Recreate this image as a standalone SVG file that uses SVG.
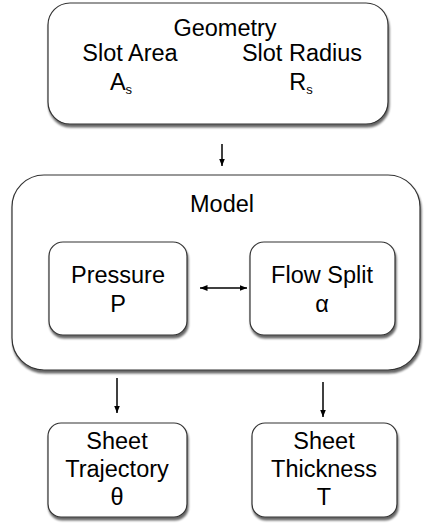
<svg xmlns="http://www.w3.org/2000/svg" width="426" height="523" viewBox="0 0 426 523">
<defs>
<filter id="sh" x="-10%" y="-10%" width="120%" height="120%">
<feGaussianBlur in="SourceAlpha" stdDeviation="1"/>
<feOffset dx="1" dy="2.5" result="b"/>
<feComponentTransfer><feFuncA type="linear" slope="0.6"/></feComponentTransfer>
<feMerge><feMergeNode/><feMergeNode in="SourceGraphic"/></feMerge>
</filter>
<marker id="ah" viewBox="0 0 10 10" refX="10" refY="5" markerWidth="5" markerHeight="5" orient="auto-start-reverse">
<path d="M0,1 L10,5 L0,9 z" fill="#000"/>
</marker>
</defs>
<style>
.box{fill:#fff;stroke:#333;stroke-width:1.2;filter:url(#sh)}
text{font-family:"Liberation Sans",Arial,sans-serif;font-size:23.5px;fill:#000;text-anchor:middle}
.sub{font-size:13px}
.c{stroke:#000;stroke-width:1.5;fill:none;marker-end:url(#ah)}
</style>
<rect width="426" height="523" fill="#fff"/>
<g id="geometry">
<rect class="box" x="48" y="3" width="340" height="121" rx="22"/>
<text x="225" y="36">Geometry</text>
<text x="130" y="61">Slot Area</text>
<text x="302" y="61">Slot Radius</text>
<text x="121" y="90" text-anchor="start">A<tspan class="sub" dy="4">s</tspan></text>
<text x="301" y="90" text-anchor="start">R<tspan class="sub" dy="4">s</tspan></text>
</g>
<g id="model">
<rect class="box" x="12" y="175" width="408" height="195" rx="32"/>
<text x="222" y="212">Model</text>
</g>
<g id="pressure">
<rect class="box" x="49" y="242" width="138" height="93" rx="14"/>
<text x="118" y="283">Pressure</text>
<text x="118" y="312">P</text>
</g>
<g id="flowsplit">
<rect class="box" x="250" y="242" width="145" height="93" rx="14"/>
<text x="322" y="283">Flow Split</text>
<text x="322" y="312">α</text>
</g>
<g id="trajectory">
<rect class="box" x="48" y="423" width="139" height="94" rx="13"/>
<text x="117" y="449">Sheet</text>
<text x="117" y="477">Trajectory</text>
<text x="117" y="505">θ</text>
</g>
<g id="thickness">
<rect class="box" x="252" y="423" width="145" height="94" rx="13"/>
<text x="324" y="449">Sheet</text>
<text x="324" y="477">Thickness</text>
<text x="324" y="505">T</text>
</g>
<g id="connectors">
<line class="c" x1="222" y1="144" x2="222" y2="166"/>
<line class="c" x1="200" y1="288" x2="247" y2="288" marker-start="url(#ah)"/>
<line class="c" x1="117" y1="378" x2="117" y2="413"/>
<line class="c" x1="323" y1="382" x2="323" y2="417"/>
</g>
</svg>
